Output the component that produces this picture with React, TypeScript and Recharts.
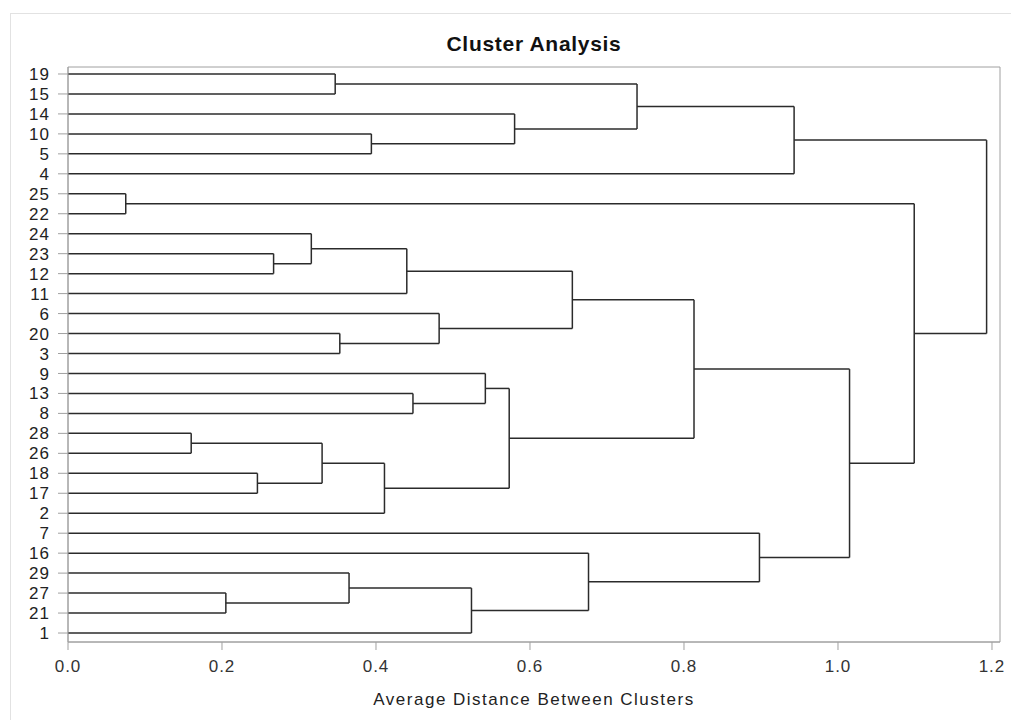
import React from "react"
import { ComposedChart, XAxis, YAxis, ReferenceLine, ReferenceArea } from "recharts"

// leaves, top to bottom
const leaves = ["19", "15", "14", "10", "5", "4", "25", "22", "24", "23", "12", "11", "6", "20", "3", "9", "13", "8", "28", "26", "18", "17", "2", "7", "16", "29", "27", "21", "1"]

// merges: "mN" refers to merge N, anything else is a leaf label
const mergeLeft = ["19", "10", "14", "m0", "m3", "25", "23", "24", "m7", "20", "6", "m8", "13", "9", "28", "18", "m14", "m16", "m13", "m11", "27", "29", "m21", "16", "7", "m19", "m5", "m4"]
const mergeRight = ["15", "5", "m1", "m2", "4", "22", "12", "m6", "11", "3", "m9", "m10", "8", "m12", "26", "17", "m15", "2", "m17", "m18", "21", "m20", "1", "m22", "m23", "m24", "m25", "m26"]
const mergeHeight = [0.347, 0.394, 0.58, 0.739, 0.943, 0.075, 0.267, 0.316, 0.44, 0.353, 0.482, 0.655, 0.448, 0.542, 0.16, 0.246, 0.33, 0.411, 0.573, 0.813, 0.205, 0.365, 0.524, 0.676, 0.898, 1.015, 1.099, 1.193]

const xTicks = [0, 0.2, 0.4, 0.6, 0.8, 1.0, 1.2]

const X_MAX = 1.2104
const Y_MIN = -0.35
const Y_MAX = 28.45

type Seg = { x1: number; y1: number; x2: number; y2: number }

function buildSegments(): Seg[] {
  const pos: { y: number; h: number }[] = []
  const lookup = (key: string) => {
    if (key.startsWith("m")) return pos[Number(key.slice(1))]
    return { y: leaves.indexOf(key), h: 0 }
  }
  const segs: Seg[] = []
  mergeHeight.forEach((h, i) => {
    const a = lookup(mergeLeft[i])
    const b = lookup(mergeRight[i])
    segs.push({ x1: a.h, y1: a.y, x2: h, y2: a.y })
    segs.push({ x1: b.h, y1: b.y, x2: h, y2: b.y })
    segs.push({ x1: h, y1: a.y, x2: h, y2: b.y })
    pos[i] = { y: (a.y + b.y) / 2, h }
  })
  return segs
}

const segments = buildSegments()
const font = "'Liberation Sans', Arial, sans-serif"

export default function App() {
  return (
    <div style={{ position: "absolute", left: 0, top: 0, width: 1011, height: 720, background: "#fff", fontFamily: font }}>
      {/* faint outer frame */}
      <div style={{ position: "absolute", left: 10, top: 13, right: -2, bottom: -2, borderLeft: "1px solid #e2e2e2", borderTop: "1px solid #e2e2e2" }} />
      <div style={{ position: "absolute", left: 68, width: 932, top: 33, textAlign: "center", fontSize: 21, lineHeight: "21px", fontWeight: "bold", letterSpacing: 0.7, color: "#111" }}>
        Cluster Analysis
      </div>
      <ComposedChart width={1011} height={720} margin={{ top: 67, right: 11, left: 0, bottom: 8 }} style={{ position: "absolute", left: 0, top: 0 }}>
        <XAxis
          type="number"
          dataKey="x"
          domain={[0, X_MAX]}
          ticks={xTicks}
          allowDataOverflow
          height={70}
          tickSize={8}
          tickMargin={10}
          tickFormatter={(v: number) => v.toFixed(1)}
          stroke="#a0a0a0"
          tick={{ fill: "#333", fontSize: 17, letterSpacing: 1, fontFamily: font }}
          label={{ value: "Average Distance Between Clusters", position: "insideBottom", offset: 7, fill: "#222", fontSize: 17, letterSpacing: 1.5, fontFamily: font }}
        />
        <YAxis
          type="number"
          dataKey="y"
          domain={[Y_MIN, Y_MAX]}
          reversed
          allowDataOverflow
          ticks={leaves.map((_, i) => i)}
          interval={0}
          width={68}
          tickSize={10}
          tickMargin={8}
          tickFormatter={(v: number) => leaves[v] ?? ""}
          stroke="#a0a0a0"
          tick={{ fill: "#222", fontSize: 17, letterSpacing: 1, fontFamily: font }}
        />
        <ReferenceArea x1={0} x2={X_MAX} y1={Y_MIN} y2={Y_MAX} fill="none" stroke="#a0a0a0" strokeWidth={1} ifOverflow="visible" />
        {segments.map((s, i) => (
          <ReferenceLine
            key={i}
            segment={[{ x: s.x1, y: s.y1 }, { x: s.x2, y: s.y2 }]}
            stroke="#2b2b2b"
            strokeWidth={1.5}
            ifOverflow="visible"
          />
        ))}
      </ComposedChart>
    </div>
  )
}
